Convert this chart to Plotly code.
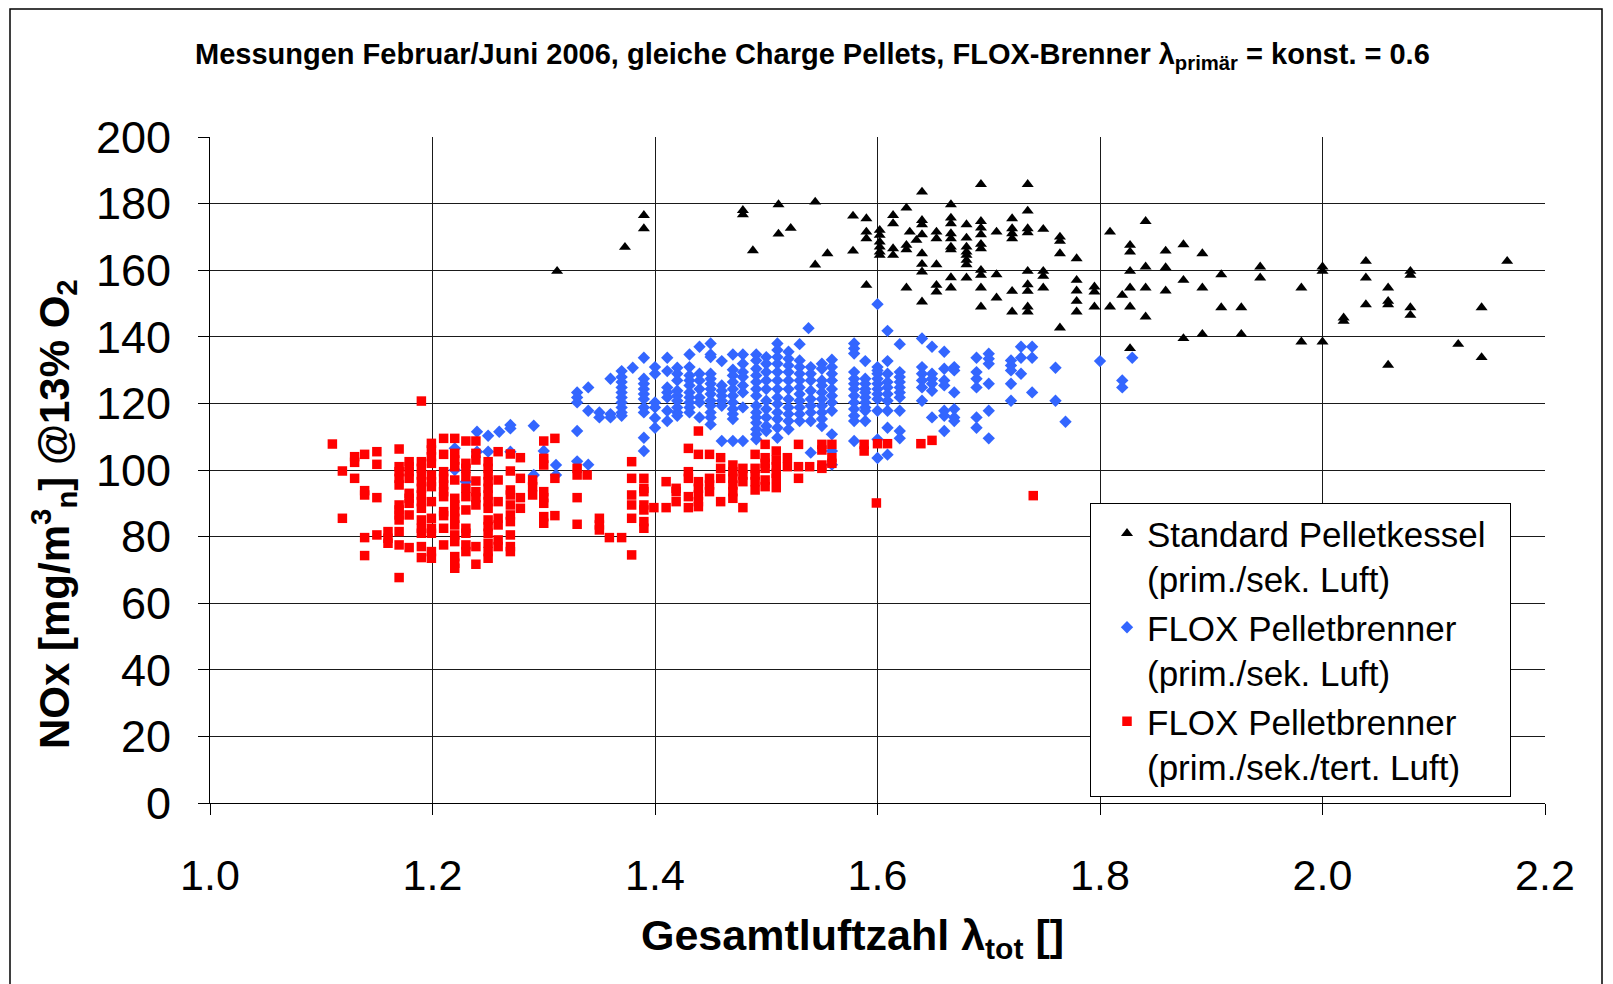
import plotly.graph_objects as go

# ---------------- data ----------------
std_x = [1.312, 1.373, 1.390, 1.390, 1.479, 1.479, 1.488, 1.511, 1.511, 1.522, 1.544, 1.544, 1.555,
         1.578, 1.578, 1.590, 1.590, 1.590, 1.590,
         1.602, 1.602, 1.602, 1.602, 1.602, 1.602,
         1.614, 1.614, 1.614, 1.614,
         1.626, 1.626, 1.626, 1.626, 1.629, 1.635,
         1.640, 1.640, 1.640, 1.640, 1.640, 1.640, 1.640, 1.640,
         1.653, 1.653, 1.653, 1.653, 1.653,
         1.666, 1.666, 1.666, 1.666, 1.666, 1.666, 1.666, 1.666, 1.666,
         1.680, 1.680, 1.680, 1.680, 1.680, 1.680, 1.680, 1.680,
         1.693, 1.693, 1.693, 1.693, 1.693, 1.693, 1.693, 1.693, 1.693, 1.693,
         1.707, 1.707, 1.707,
         1.721, 1.721, 1.721, 1.721, 1.721, 1.721,
         1.735, 1.735, 1.735, 1.735, 1.735, 1.735, 1.735, 1.735, 1.735,
         1.749, 1.749, 1.749, 1.749,
         1.764, 1.764, 1.764, 1.764,
         1.779, 1.779, 1.779, 1.779, 1.779,
         1.795, 1.795, 1.795, 1.809, 1.809, 1.820,
         1.827, 1.827, 1.827, 1.827, 1.827, 1.827,
         1.841, 1.841, 1.841, 1.841,
         1.859, 1.859, 1.859, 1.875, 1.875, 1.875, 1.892, 1.892, 1.892,
         1.909, 1.909, 1.927, 1.927, 1.944, 1.944, 1.981, 1.981,
         2.000, 2.000, 2.000, 2.019, 2.019, 2.039, 2.039, 2.039,
         2.059, 2.059, 2.059, 2.059, 2.079, 2.079, 2.079, 2.079,
         2.122, 2.143, 2.143, 2.166]
std_y = [159.7, 166.9, 172.5, 176.5, 178.0, 176.7, 165.9, 179.7, 170.9, 172.6, 180.5, 161.6, 165.0,
         176.3, 165.8, 175.5, 171.5, 169.5, 155.5,
         172.0, 170.5, 168.5, 167.0, 165.5, 164.5,
         176.5, 174.0, 166.5, 164.5,
         178.7, 167.5, 166.2, 154.7, 171.5, 169.0,
         183.5, 175.0, 173.7, 170.7, 165.0, 161.8, 159.5, 150.5,
         171.5, 169.5, 161.7, 155.5, 153.5,
         179.7, 175.7, 174.0, 171.0, 169.5, 167.0, 166.2, 157.8, 154.7,
         173.7, 169.7, 167.0, 165.5, 164.5, 163.0, 161.7, 157.7,
         185.8, 174.7, 172.7, 170.7, 167.8, 166.5, 160.0, 158.5, 154.7, 149.0,
         171.5, 158.7, 151.7,
         175.5, 172.5, 171.0, 169.5, 153.7, 147.5,
         185.8, 177.8, 172.5, 171.3, 159.7, 155.7, 153.7, 149.0, 147.5,
         172.3, 159.7, 158.2, 154.7,
         170.0, 168.7, 165.0, 142.7,
         163.5, 157.0, 153.8, 150.7, 147.5,
         155.0, 153.5, 149.0, 171.5, 149.0, 152.5,
         167.5, 165.5, 159.7, 154.7, 149.0, 136.5,
         174.7, 161.0, 154.7, 146.0,
         165.8, 160.8, 153.8, 167.7, 157.0, 139.5, 165.0, 154.7, 140.8,
         158.7, 148.8, 148.8, 140.8, 161.0, 157.7, 154.7, 138.5,
         161.0, 159.7, 138.5, 145.7, 144.7, 162.7, 157.7, 149.7,
         154.7, 150.7, 149.7, 131.5, 159.7, 158.5, 148.8, 146.5,
         137.8, 148.8, 133.8, 162.7]

flox_x = [1.220, 1.220, 1.230, 1.240, 1.240, 1.250, 1.250, 1.260, 1.270, 1.270, 1.270,
          1.291, 1.291, 1.300, 1.311, 1.311,
          1.330, 1.330, 1.330, 1.330, 1.330, 1.340, 1.340, 1.340, 1.350, 1.350, 1.360, 1.360, 1.360,
          1.370, 1.370, 1.370, 1.370, 1.370, 1.370, 1.370, 1.370, 1.370, 1.370,
          1.380,
          1.390, 1.390, 1.390, 1.390, 1.390, 1.390, 1.390, 1.390, 1.390, 1.390,
          1.400, 1.400, 1.400, 1.400, 1.400, 1.400,
          1.411, 1.411, 1.411, 1.411, 1.411, 1.411, 1.411,
          1.420, 1.420, 1.420, 1.420, 1.420, 1.420, 1.420, 1.420, 1.420,
          1.431, 1.431, 1.431, 1.431, 1.431, 1.431, 1.431, 1.431, 1.431, 1.431,
          1.440, 1.440, 1.440, 1.440, 1.440, 1.440, 1.440,
          1.450, 1.450, 1.450, 1.450, 1.450, 1.450, 1.450, 1.450, 1.450, 1.450, 1.450, 1.450, 1.450,
          1.460, 1.460, 1.460, 1.460, 1.460, 1.460, 1.460,
          1.470, 1.470, 1.470, 1.470, 1.470, 1.470, 1.470, 1.470, 1.470, 1.470, 1.470,
          1.479, 1.479, 1.479, 1.479, 1.479, 1.479, 1.479, 1.479,
          1.491, 1.491, 1.491, 1.491, 1.491, 1.491, 1.491, 1.491, 1.491, 1.491, 1.491, 1.491, 1.491, 1.491,
          1.500, 1.500, 1.500, 1.500, 1.500, 1.500, 1.500, 1.500, 1.500, 1.500,
          1.510, 1.510, 1.510, 1.510, 1.510, 1.510, 1.510, 1.510, 1.510, 1.510, 1.510, 1.510, 1.510,
          1.520, 1.520, 1.520, 1.520, 1.520, 1.520, 1.520, 1.520, 1.520, 1.520, 1.520,
          1.530, 1.530, 1.530, 1.530, 1.530, 1.530, 1.530, 1.530, 1.530, 1.530, 1.530,
          1.538,
          1.540, 1.540, 1.540, 1.540, 1.540, 1.540, 1.540, 1.540, 1.540,
          1.550, 1.550, 1.550, 1.550, 1.550, 1.550, 1.550, 1.550, 1.550, 1.550,
          1.559, 1.559, 1.559, 1.559, 1.559, 1.559, 1.559, 1.559, 1.559, 1.559, 1.559,
          1.579, 1.579, 1.579, 1.579, 1.579, 1.579, 1.579, 1.579, 1.579, 1.579, 1.579, 1.579, 1.579,
          1.589, 1.589, 1.589, 1.589, 1.589, 1.589, 1.589, 1.589, 1.589, 1.589,
          1.600, 1.600, 1.600, 1.600, 1.600, 1.600, 1.600, 1.600, 1.600, 1.600, 1.600, 1.600,
          1.609, 1.609, 1.609, 1.609, 1.609, 1.609, 1.609, 1.609, 1.609, 1.609,
          1.620, 1.620, 1.620, 1.620, 1.620, 1.620, 1.620, 1.620, 1.620, 1.620,
          1.640, 1.640, 1.640, 1.640, 1.640, 1.640,
          1.649, 1.649, 1.649, 1.649, 1.649, 1.649,
          1.660, 1.660, 1.660, 1.660, 1.660, 1.660, 1.660,
          1.669, 1.669, 1.669, 1.669, 1.669, 1.669,
          1.689, 1.689, 1.689, 1.689, 1.689, 1.689,
          1.700, 1.700, 1.700, 1.700, 1.700, 1.700,
          1.720, 1.720, 1.720, 1.720, 1.720,
          1.729, 1.729, 1.729, 1.739, 1.739, 1.739,
          1.760, 1.760, 1.769, 1.800, 1.820, 1.820, 1.829]
flox_y = [106.5, 100.0, 96.5, 111.5, 105.5, 110.3, 105.5, 111.5, 113.5, 112.5, 105.5,
          113.3, 98.5, 105.7, 101.5, 98.5,
          123.3, 121.8, 120.3, 111.7, 102.6, 124.8, 117.8, 101.6, 117.3, 115.8, 127.4, 116.8, 115.8,
          129.7, 127.9, 126.4, 124.8, 123.3, 121.8, 120.3, 118.8, 117.3, 116.3,
          130.7,
          133.7, 127.4, 125.9, 124.3, 122.8, 121.3, 118.8, 117.3, 109.7, 105.7,
          130.9, 128.9, 120.3, 118.8, 115.6, 112.7,
          133.7, 129.7, 124.8, 123.3, 121.8, 117.8, 114.7,
          130.7, 128.9, 126.9, 123.8, 122.3, 120.8, 118.8, 117.3, 116.3,
          134.7, 130.9, 128.4, 126.9, 125.4, 123.3, 121.8, 120.3, 118.8, 117.3,
          137.0, 128.9, 126.9, 124.3, 121.8, 120.3, 115.8,
          138.0, 134.7, 133.9, 128.9, 127.4, 125.9, 124.3, 122.8, 120.8, 119.3, 117.3, 115.8, 113.7,
          132.7, 125.4, 123.8, 122.3, 120.8, 119.3, 108.7,
          134.7, 130.1, 128.4, 126.4, 124.3, 122.3, 120.3, 118.3, 116.8, 115.3, 108.7,
          134.7, 131.9, 129.4, 127.9, 125.4, 123.3, 118.8, 108.7,
          134.7, 132.9, 130.4, 128.4, 126.4, 124.3, 122.3, 119.3, 117.3, 115.8, 114.2, 112.2, 110.7, 109.2,
          133.9, 131.9, 129.4, 126.9, 124.3, 120.8, 118.3, 115.8, 113.2, 111.7,
          138.0, 136.0, 133.9, 131.9, 129.4, 126.9, 124.3, 121.8, 119.8, 117.3, 115.3, 112.7, 109.7,
          135.5, 133.4, 131.4, 129.4, 126.9, 124.3, 121.3, 118.8, 116.8, 114.7, 112.2,
          137.8, 132.9, 130.9, 128.9, 126.9, 124.8, 122.8, 120.8, 118.8, 116.8, 114.7,
          142.6,
          130.9, 128.9, 126.9, 123.8, 121.3, 119.3, 117.3, 114.7, 105.2,
          131.9, 130.4, 126.9, 125.4, 123.3, 121.3, 119.3, 117.3, 115.3, 113.2,
          133.1, 130.9, 128.9, 126.9, 124.3, 122.3, 120.3, 117.8, 110.7, 105.7, 101.6,
          138.0, 136.5, 135.0, 129.4, 127.4, 125.9, 124.3, 122.3, 120.3, 118.3, 116.3, 114.7, 108.7,
          132.7, 127.4, 125.9, 124.3, 123.3, 121.8, 120.3, 118.8, 117.8, 114.7,
          149.8, 130.9, 129.9, 128.9, 127.4, 125.9, 124.3, 122.8, 121.3, 117.8, 109.2, 103.6,
          141.8, 132.7, 128.9, 126.4, 124.8, 122.8, 120.8, 117.8, 112.7, 104.6,
          137.8, 129.4, 127.9, 126.4, 124.8, 123.3, 121.8, 117.8, 111.7, 109.5,
          139.5, 130.9, 128.9, 126.9, 124.8, 120.8,
          137.0, 128.9, 127.4, 125.9, 123.8, 115.8,
          135.5, 130.4, 126.9, 125.4, 117.8, 116.3, 111.7,
          130.9, 129.9, 123.3, 118.3, 115.8, 114.7,
          133.7, 129.4, 127.4, 124.8, 115.8, 112.7,
          134.9, 133.4, 131.9, 125.9, 117.8, 109.5,
          132.9, 131.4, 129.9, 125.9, 120.8,
          137.0, 133.7, 128.9, 137.0, 133.7, 123.3,
          130.7, 120.8, 114.5, 132.7, 126.9, 124.8, 133.7]

tert_x = [1.110, 1.119, 1.119, 1.130, 1.130, 1.130,
          1.139, 1.139, 1.139, 1.139, 1.139, 1.150, 1.150, 1.150, 1.150, 1.160, 1.160, 1.160,
          1.170, 1.170, 1.170, 1.170, 1.170, 1.170, 1.170, 1.170, 1.170, 1.170, 1.170, 1.170,
          1.179, 1.179, 1.179, 1.179, 1.179, 1.179, 1.179, 1.179, 1.179,
          1.190, 1.190, 1.190, 1.190, 1.190, 1.190, 1.190, 1.190, 1.190, 1.190, 1.190, 1.190, 1.190, 1.190,
          1.199, 1.199, 1.199, 1.199, 1.199, 1.199, 1.199, 1.199, 1.199, 1.199, 1.199, 1.199, 1.199,
          1.210, 1.210, 1.210, 1.210, 1.210, 1.210, 1.210, 1.210, 1.210, 1.210, 1.210,
          1.220, 1.220, 1.220, 1.220, 1.220, 1.220, 1.220, 1.220, 1.220, 1.220, 1.220, 1.220, 1.220, 1.220, 1.220,
          1.230, 1.230, 1.230, 1.230, 1.230, 1.230, 1.230, 1.230, 1.230, 1.230, 1.230,
          1.239, 1.239, 1.239, 1.239, 1.239, 1.239, 1.239, 1.239, 1.239,
          1.250, 1.250, 1.250, 1.250, 1.250, 1.250, 1.250, 1.250, 1.250, 1.250, 1.250, 1.250, 1.250, 1.250,
          1.259, 1.259, 1.259, 1.259, 1.259, 1.259, 1.259,
          1.270, 1.270, 1.270, 1.270, 1.270, 1.270, 1.270, 1.270, 1.270, 1.270,
          1.279, 1.279, 1.279, 1.279, 1.290, 1.290, 1.290,
          1.300, 1.300, 1.300, 1.300, 1.300, 1.300, 1.300, 1.300,
          1.310, 1.310, 1.310, 1.330, 1.330, 1.330, 1.330, 1.339,
          1.350, 1.350, 1.350, 1.359, 1.370, 1.379,
          1.379, 1.379, 1.379, 1.379, 1.379,
          1.390, 1.390, 1.390, 1.390, 1.390, 1.390, 1.390,
          1.399, 1.410, 1.410, 1.419, 1.419, 1.419,
          1.430, 1.430, 1.430, 1.430, 1.430,
          1.439, 1.439, 1.439, 1.439, 1.439, 1.439, 1.439,
          1.449, 1.449, 1.449, 1.449, 1.459, 1.459, 1.459, 1.459,
          1.470, 1.470, 1.470, 1.470, 1.470, 1.470,
          1.479, 1.479, 1.479, 1.479, 1.490, 1.490, 1.490, 1.490, 1.490,
          1.499, 1.499, 1.499, 1.499, 1.499, 1.499,
          1.509, 1.509, 1.509, 1.509, 1.509, 1.509,
          1.519, 1.519, 1.529, 1.529, 1.529, 1.539,
          1.550, 1.550, 1.550, 1.550, 1.559, 1.559, 1.559,
          1.588, 1.588, 1.599, 1.600, 1.609, 1.639, 1.649, 1.740]
tert_y = [107.8, 99.7, 85.5, 104.0, 102.3, 97.5,
          104.7, 93.8, 92.5, 79.7, 74.3, 105.5, 101.7, 91.7, 80.5, 81.5, 79.5, 78.0,
          106.3, 101.0, 99.5, 97.5, 95.5, 89.5, 88.0, 86.5, 85.0, 81.5, 77.5, 67.7,
          102.5, 101.0, 99.5, 97.5, 93.0, 91.5, 90.0, 86.5, 76.7,
          120.7, 102.5, 100.5, 98.5, 96.5, 94.5, 92.5, 90.5, 88.5, 85.0, 82.5, 81.0, 77.0, 73.7,
          108.0, 106.0, 104.0, 102.0, 98.5, 96.5, 95.0, 90.5, 85.5, 82.5, 81.0, 75.5, 73.5,
          109.5, 104.7, 99.5, 97.5, 95.5, 93.5, 92.0, 87.5, 86.3, 82.5, 77.5,
          109.5, 105.0, 103.0, 101.0, 97.0, 91.5, 89.5, 87.5, 85.5, 83.5, 80.5, 78.5, 74.0, 72.0, 70.5,
          108.7, 102.0, 100.5, 98.0, 94.5, 92.0, 88.0, 82.5, 81.0, 77.5, 75.5,
          108.7, 105.0, 103.0, 96.7, 93.5, 91.7, 89.5, 77.0, 71.7,
          102.5, 100.5, 98.5, 96.5, 94.5, 92.5, 90.5, 88.5, 85.0, 83.0, 81.0, 78.0, 75.5, 73.5,
          105.5, 97.0, 90.5, 85.5, 83.5, 79.0, 77.0,
          104.8, 99.7, 94.0, 92.5, 89.5, 86.5, 84.5, 80.5, 77.0, 75.5,
          103.7, 97.5, 91.7, 88.5, 97.0, 95.0, 92.5,
          108.7, 103.5, 101.5, 93.5, 91.7, 90.0, 86.0, 84.0,
          109.5, 97.5, 86.3, 100.5, 98.5, 91.7, 83.7, 98.5,
          85.5, 83.5, 82.0, 79.7, 79.7, 74.5,
          102.5, 97.5, 92.5, 89.5, 85.5,
          97.5, 94.5, 93.5, 89.5, 88.0, 84.5, 82.5,
          88.7, 96.5, 88.7, 94.5, 93.5, 90.5,
          106.5, 99.5, 97.5, 92.0, 88.7,
          111.7, 104.7, 96.5, 94.5, 92.5, 90.5, 89.0,
          104.7, 97.5, 95.5, 93.5, 103.7, 100.5, 97.5, 90.5,
          101.5, 99.5, 97.5, 95.5, 93.5, 91.5,
          100.5, 98.5, 96.5, 88.7, 104.7, 100.5, 98.5, 96.5, 94.0,
          107.7, 103.7, 102.0, 100.5, 97.0, 95.0,
          105.7, 103.0, 101.0, 99.0, 97.5, 94.7,
          103.7, 101.0, 107.7, 101.0, 97.5, 101.0,
          107.7, 106.0, 101.5, 100.5, 107.7, 103.7, 102.0,
          107.7, 105.7, 90.1, 107.9, 107.9, 107.9, 108.9, 92.3]

series_names = [
    "Standard Pelletkessel\u00a0\u00a0<br>(prim./sek. Luft)",
    "FLOX Pelletbrenner<br>(prim./sek. Luft)",
    "FLOX Pelletbrenner<br>(prim./sek./tert. Luft)",
]
x_ticks = [1.0, 1.2, 1.4, 1.6, 1.8, 2.0, 2.2]
y_ticks = [0, 20, 40, 60, 80, 100, 120, 140, 160, 180, 200]

FONT = "Liberation Sans, Arial, sans-serif"

fig = go.Figure()
fig.add_trace(go.Scatter(x=std_x, y=std_y, mode="markers", name=series_names[0],
                         marker=dict(symbol="triangle-up", size=10.5, color="#000000", line=dict(width=0))))
fig.add_trace(go.Scatter(x=flox_x, y=flox_y, mode="markers", name=series_names[1],
                         marker=dict(symbol="diamond", size=9.5, color="#3366FF", line=dict(width=0))))
fig.add_trace(go.Scatter(x=tert_x, y=tert_y, mode="markers", name=series_names[2],
                         marker=dict(symbol="square", size=9.5, color="#FF0000", line=dict(width=0))))

# page offset: the html body adds an 8px margin, so figure coords = page coords - 8
OFF = 8
W, H = 1613, 984
PL, PR, PT, PB = 210, 1545, 137, 803          # plot area in page pixels
L, T = PL - OFF, PT - OFF
R, B = W - (PR - OFF), H - (PB - OFF)
pw, ph = PR - PL, PB - PT

def px_to_paper_x(px):   # px in page pixels
    return (px - PL) / pw

def px_to_paper_y(py):
    return (PB - py) / ph

fig.update_layout(
    width=W, height=H,
    margin=dict(l=L, r=R, t=T, b=B, pad=0),
    paper_bgcolor="white", plot_bgcolor="white",
    font=dict(family=FONT, color="black"),
    showlegend=True,
    legend=dict(
        x=px_to_paper_x(1090), y=px_to_paper_y(503), xanchor="left", yanchor="top",
        bgcolor="white", bordercolor="black", borderwidth=1,
        font=dict(family=FONT, size=35, color="black"),
        valign="top", itemwidth=30, tracegroupgap=0, indentation=16,
    ),
    xaxis=dict(
        range=[1.0, 2.2], tickmode="array", tickvals=x_ticks, tickformat=".1f",
        showgrid=True, gridcolor="#1a1a1a", gridwidth=1,
        showline=True, linecolor="black", linewidth=1, zeroline=False,
        ticks="outside", ticklen=11, tickcolor="black",
        tickfont=dict(family=FONT, size=43, color="black"),
        ticklabelstandoff=23,
    ),
    yaxis=dict(
        range=[0, 200], tickmode="array", tickvals=y_ticks,
        showgrid=True, gridcolor="#1a1a1a", gridwidth=1,
        showline=True, linecolor="black", linewidth=1, zeroline=False,
        ticks="outside", ticklen=11, tickcolor="black",
        tickfont=dict(family=FONT, size=45, color="black"),
        ticklabelstandoff=18,
    ),
    annotations=[
        dict(text="<b>Messungen Februar/Juni 2006, gleiche Charge Pellets, FLOX-Brenner λ<sub>primär</sub> = konst. = 0.6</b>",
             xref="paper", yref="paper", x=px_to_paper_x(812), y=px_to_paper_y(56),
             xanchor="center", yanchor="middle", showarrow=False,
             font=dict(family=FONT, size=29, color="black")),
        dict(text="<b>Gesamtluftzahl λ<sub>tot</sub> []</b>",
             xref="paper", yref="paper", x=px_to_paper_x(852), y=px_to_paper_y(938),
             xanchor="center", yanchor="middle", showarrow=False,
             font=dict(family=FONT, size=43, color="black")),
        dict(text="<b>NOx [mg/m<sup>3</sup><sub>n</sub>] @13% O<sub>2</sub></b>",
             xref="paper", yref="paper", x=px_to_paper_x(53), y=px_to_paper_y(514),
             xanchor="center", yanchor="middle", showarrow=False, textangle=-90,
             font=dict(family=FONT, size=42, color="black")),
    ],
    shapes=[
        dict(type="rect", xref="paper", yref="paper",
             x0=px_to_paper_x(10), x1=px_to_paper_x(1602),
             y0=px_to_paper_y(1000), y1=px_to_paper_y(9),
             line=dict(color="black", width=1.5), fillcolor="rgba(0,0,0,0)", layer="below"),
    ],
)

fig.write_html("out.html")
